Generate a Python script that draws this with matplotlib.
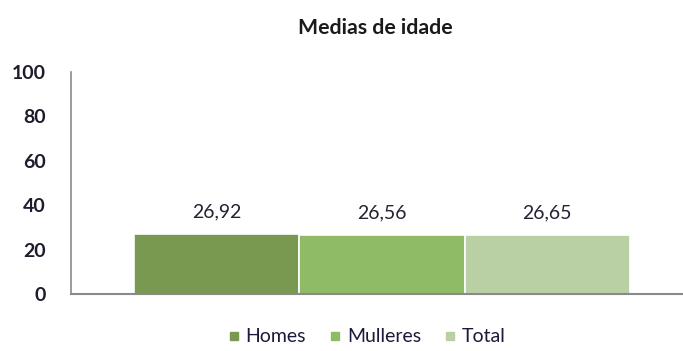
import matplotlib
matplotlib.use("Agg")
import matplotlib.pyplot as plt
from matplotlib.lines import Line2D

title = "Medias de idade"
series = ["Homes", "Mulleres", "Total"]
values = [26.92, 26.56, 26.65]
value_labels = ["26,92", "26,56", "26,65"]
colors = ["#78994f", "#8fbb67", "#b9d0a4"]
yticks = [0, 20, 40, 60, 80, 100]

plt.rcParams["font.family"] = ["Lato", "DejaVu Sans"]

fig = plt.figure(figsize=(6.83, 3.51), dpi=100)
ax = fig.add_axes([0.104, 0.162, 0.896, 0.633])

x = list(range(len(series)))
bars = ax.bar(x, values, width=1.0, color=colors, edgecolor="white", linewidth=1.2)

for xi, v, lab in zip(x, values, value_labels):
    ax.annotate(lab, (xi, v), xytext=(0, 10), textcoords="offset points",
                ha="center", va="bottom", fontsize=14, color="#222233")

ax.set_ylim(0, 100)
ax.set_xlim(-0.882, 2.821)
ax.set_yticks(yticks)
ax.set_yticklabels([str(t) for t in yticks], fontsize=14, fontweight="bold",
                   color="#1c1c2c")
ax.tick_params(axis="y", length=0, pad=18)
ax.set_xticks([])

for side in ("top", "right"):
    ax.spines[side].set_visible(False)
ax.spines["left"].set_color("#8a8a8a")
ax.spines["bottom"].set_color("#8a8a8a")
ax.spines["left"].set_linewidth(1.2)
ax.spines["bottom"].set_linewidth(1.5)

fig.text(0.549, 0.92, title, ha="center", va="center", fontsize=15.3,
         fontweight="bold", color="#1a1a1a")

handles = [Line2D([0], [0], marker="s", linestyle="", markersize=6,
                  markerfacecolor=c, markeredgecolor=c) for c in colors]
fig.legend(handles, series, loc="center", bbox_to_anchor=(0.537, 0.04),
           ncol=3, frameon=False, fontsize=14, handlelength=0.6,
           handletextpad=0.3, columnspacing=1.2, labelcolor="#1a1a3a")

fig.savefig("out.png", dpi=100)
